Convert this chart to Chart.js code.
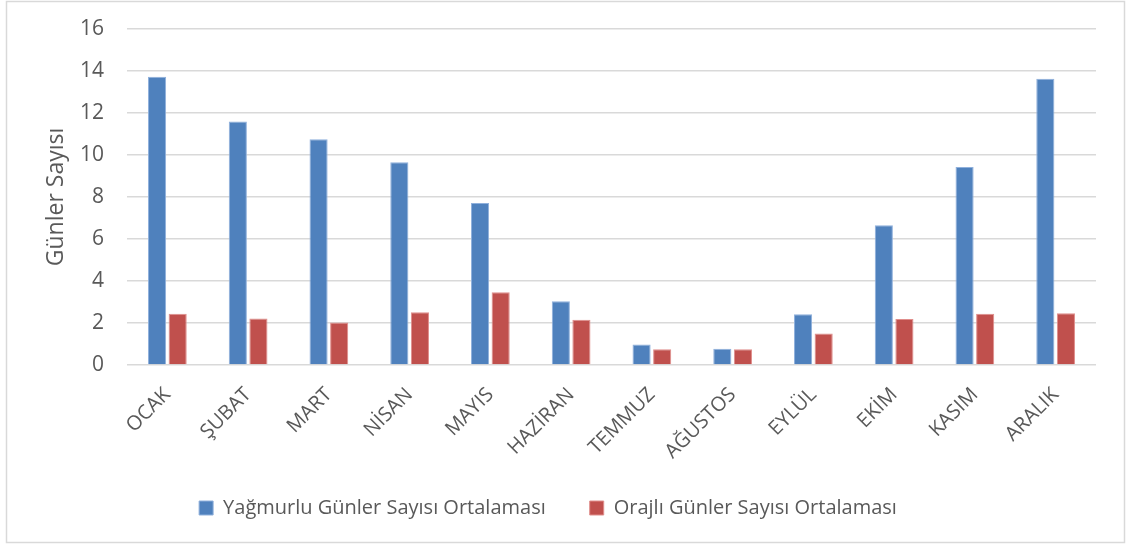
<!DOCTYPE html>
<html>
<head>
<meta charset="utf-8">
<script src="https://cdn.jsdelivr.net/npm/chart.js@4"></script>
<style>
    html, body { margin: 0; padding: 0; background: #fff; }
    #wrap { position: relative; width: 1126px; height: 548px; }
</style>
</head>
<body>
<div id="wrap"><canvas id="chart"></canvas></div>
<script>
    'use strict';

    var months = ['OCAK', 'ŞUBAT', 'MART', 'NİSAN', 'MAYIS', 'HAZİRAN', 'TEMMUZ', 'AĞUSTOS', 'EYLÜL', 'EKİM', 'KASIM', 'ARALIK'];
    var rainyDays = [13.73, 11.6, 10.75, 9.66, 7.72, 3.04, 0.98, 0.77, 2.42, 6.66, 9.43, 13.63];
    var stormyDays = [2.44, 2.21, 2.02, 2.51, 3.46, 2.15, 0.75, 0.75, 1.5, 2.19, 2.44, 2.47];
    var yTicks = [0, 2, 4, 6, 8, 10, 12, 14, 16];

    var textColor = '#595959';
    var fontFamily = '"Open Sans", sans-serif';

    // outer frame like the office chart area, legend nudged up a bit
    var framePlugin = {
        id: 'frame',
        afterLayout: function(chart) {
            var lg = chart.legend;
            if (lg) {
                lg.top -= 11;
                lg.bottom -= 11;
            }
        },
        beforeDraw: function(chart) {
            var ctx = chart.ctx;
            ctx.save();
            ctx.fillStyle = '#fff';
            ctx.fillRect(0, 0, chart.width, chart.height);
            ctx.strokeStyle = '#d9d9d9';
            ctx.lineWidth = 1.5;
            ctx.strokeRect(6.5, 1.5, 1118, 541);
            ctx.restore();
        }
    };

    var options = {
        responsive: true,
        maintainAspectRatio: false,
        animation: false,
        layout: {
            padding: { top: 29, right: 30, bottom: 9, left: 0 }
        },
        plugins: {
            legend: {
                position: 'bottom',
                labels: {
                    boxWidth: 14,
                    boxHeight: 14,
                    padding: 44,
                    color: textColor,
                    font: { family: fontFamily, size: 20 }
                }
            },
            tooltip: { enabled: false }
        },
        scales: {
            x: {
                grid: { display: false },
                border: { display: false },
                ticks: {
                    color: textColor,
                    font: { family: fontFamily, size: 20 },
                    minRotation: 45,
                    maxRotation: 45,
                    padding: 10
                },
                afterFit: function(scale) {
                    scale.height = 100;
                }
            },
            y: {
                min: 0,
                max: 16,
                afterBuildTicks: function(scale) {
                    scale.ticks = yTicks.map(function(v) { return { value: v }; });
                },
                grid: {
                    color: '#d9d9d9',
                    lineWidth: 1.5,
                    drawTicks: false
                },
                border: { display: false },
                ticks: {
                    color: textColor,
                    font: { family: fontFamily, size: 21 },
                    padding: 23
                },
                title: {
                    display: true,
                    text: 'Günler Sayısı',
                    color: textColor,
                    font: { family: fontFamily, size: 23 },
                    padding: { top: 43, bottom: 0 }
                },
                afterFit: function(scale) {
                    scale.width = 127;
                    scale.paddingTop = 12;
                    scale.paddingBottom = 12;
                }
            }
        }
    };

    var chart = new Chart(document.getElementById('chart'), {
        type: 'bar',
        data: {
            labels: months,
            datasets: [{
                label: 'Yağmurlu Günler Sayısı Ortalaması',
                data: rainyDays,
                backgroundColor: '#4f81bd',
                borderColor: '#8fb0dc',
                borderWidth: 1,
                categoryPercentage: 0.51,
                barPercentage: 0.88
            }, {
                label: 'Orajlı Günler Sayısı Ortalaması',
                data: stormyDays,
                backgroundColor: '#c0504d',
                borderColor: '#e08e8c',
                borderWidth: 1,
                categoryPercentage: 0.51,
                barPercentage: 0.88
            }]
        },
        options: options,
        plugins: [framePlugin]
    });
</script>
</body>
</html>
